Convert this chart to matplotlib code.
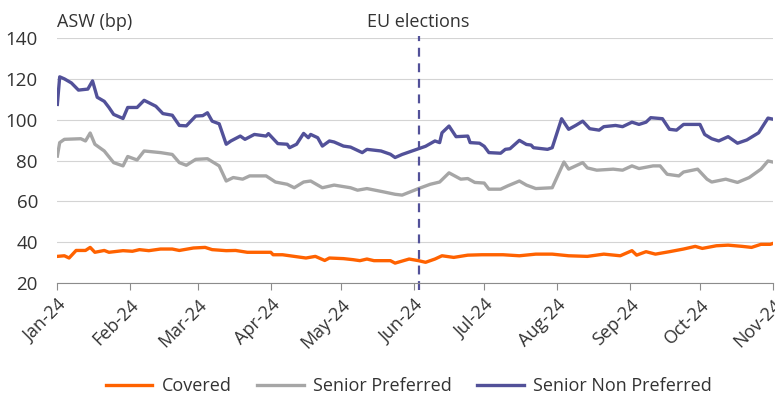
import pandas as pd
import matplotlib
matplotlib.use("Agg")
import matplotlib.pyplot as plt
import matplotlib.dates as mdates

plt.rcParams['font.family'] = ['Open Sans', 'DejaVu Sans']

# day offsets from 1 Jan 2024, values in bp
snp_days = [0, 1, 3, 6, 9, 13, 15, 17, 20, 22, 24, 28, 30, 34, 37, 42, 45, 49, 52, 55,
            59, 62, 64, 66, 69, 72, 74, 78, 80, 84, 89, 90, 94, 98, 99, 102, 105, 107, 108, 111,
            113, 116, 118, 122, 125, 130, 132, 138, 142, 144, 147, 154, 157, 161, 163, 164, 167, 170, 175, 176,
            180, 182, 184, 189, 191, 193, 197, 200, 202, 203, 209, 211, 215, 218, 221, 224, 227, 231, 233, 238,
            241, 245, 248, 251, 253, 258, 261, 264, 267, 274, 276, 279, 282, 286, 290, 294, 299, 303, 305]
snp_vals = [107.5, 121, 120, 118, 114.5, 115, 119, 111, 109, 106, 102.6, 100.6, 106, 106, 109.5, 106.6, 103, 102.2, 97.2, 97,
            101.8, 102, 103.4, 99.3, 98, 88, 89.6, 92, 90.4, 92.8, 92, 93.2, 88.3, 88, 86.3, 88, 93.3, 91.2, 92.8, 91.2,
            87.1, 89.6, 89.1, 87.1, 86.6, 83.9, 85.5, 84.7, 83.1, 81.5, 83, 85.8, 87, 89.6, 88.8, 93.6, 96.9, 91.7, 92, 88.8,
            88.5, 87, 83.9, 83.6, 85.5, 85.8, 89.9, 87.9, 87.6, 86.3, 85.5, 86.3, 100.5, 95.3, 97.2, 99.3, 95.6, 94.9, 96.6, 97.2,
            96.6, 98.8, 97.7, 98.8, 101, 100.5, 95.3, 94.9, 97.7, 97.7, 92.8, 90.7, 89.6, 91.7, 88.5, 90.1, 93.6, 100.8, 100.3]

sp_days = [0, 1, 3, 10, 12, 14, 16, 20, 24, 28, 30, 34, 37, 44, 49, 52, 55, 59, 64, 69,
           72, 75, 79, 82, 89, 93, 98, 101, 105, 108, 113, 118, 125, 128, 132, 139, 144, 147, 154, 159,
           163, 167, 172, 175, 178, 182, 184, 189, 192, 197, 200, 204, 211, 216, 218, 221, 224, 226, 230, 237,
           241, 245, 248, 254, 257, 260, 265, 267, 273, 277, 279, 285, 290, 295, 300, 303, 305]
sp_vals = [82.2, 88.8, 90.4, 90.7, 89.6, 93.5, 88, 84.7, 79, 77.4, 82, 80.3, 84.7, 83.9, 83, 79, 77.7, 80.6, 80.9, 77.4,
           70, 71.7, 70.9, 72.5, 72.5, 69.5, 68.4, 66.7, 69.5, 70, 66.7, 68, 66.7, 65.5, 66.3, 64.7, 63.5, 63.1, 66.3, 68.4,
           69.5, 74, 70.9, 71.2, 69.3, 69, 66, 66, 67.6, 70, 68, 66.3, 66.7, 79.3, 75.8, 77.4, 79, 76.4, 75.3, 75.8,
           75.3, 77.4, 76.1, 77.4, 77.4, 73.3, 72.5, 74.4, 75.8, 70.9, 69.5, 70.9, 69.3, 71.7, 75.8, 79.8, 79.3]

cov_days = [0, 3, 5, 8, 12, 14, 16, 20, 22, 28, 32, 35, 39, 44, 49, 52, 58, 63, 66, 72,
            76, 81, 86, 91, 92, 96, 101, 106, 110, 114, 116, 122, 126, 129, 132, 135, 142, 144, 150, 154,
            157, 161, 164, 169, 175, 181, 190, 197, 204, 211, 218, 226, 233, 240, 245, 247, 251, 255, 261, 267,
            272, 275, 281, 286, 292, 296, 300, 304, 305]
cov_vals = [33.1, 33.4, 32.3, 36, 36, 37.5, 35.1, 36, 35.1, 35.9, 35.6, 36.4, 35.9, 36.7, 36.7, 36, 37.2, 37.5, 36.4, 35.9,
            36, 35.1, 35.1, 35.1, 33.9, 33.9, 33.1, 32.3, 33.1, 31.1, 32.3, 32, 31.5, 31, 31.8, 31, 31, 29.8, 31.8, 31,
            30.2, 31.8, 33.4, 32.6, 33.7, 33.9, 33.9, 33.4, 34.2, 34.2, 33.4, 33.1, 34.2, 33.4, 35.9, 33.7, 35.4, 34.2, 35.4, 36.7,
            38, 37, 38.3, 38.6, 38, 37.5, 39, 39, 39.4]

start = pd.Timestamp("2024-01-01")
election_day = pd.Timestamp("2024-06-03")
month_ticks = pd.date_range("2024-01-01", "2024-11-01", freq="MS")


def to_dates(days):
    return start + pd.to_timedelta(days, unit="D")


fig = plt.figure(figsize=(7.75, 3.96), dpi=100)
ax = fig.add_axes([0.074, 0.285, 0.923, 0.619])

ax.plot(to_dates(cov_days), cov_vals, color="#FF6200", lw=2.4, label="Covered")
ax.plot(to_dates(sp_days), sp_vals, color="#A6A6A6", lw=2.4, label="Senior Preferred")
ax.plot(to_dates(snp_days), snp_vals, color="#525199", lw=2.4, label="Senior Non Preferred")

ax.axvline(election_day, ymin=-0.03, ymax=1.01, color="#525199", lw=1.6,
           ls=(0, (4, 3)), clip_on=False)
ax.text(election_day, 148, "EU elections", ha="center", va="center", fontsize=13, color="#333333")
ax.text(0.0, 148, "ASW (bp)", transform=ax.get_yaxis_transform(), ha="left", va="center",
        fontsize=13, color="#333333")

ax.set_ylim(20, 140)
ax.set_yticks([20, 40, 60, 80, 100, 120, 140])
ax.set_xlim(month_ticks[0], month_ticks[-1])
ax.set_xticks(month_ticks)
ax.xaxis.set_major_formatter(mdates.DateFormatter("%b-%y"))
plt.setp(ax.get_xticklabels(), rotation=45, ha="right", rotation_mode="anchor")

ax.grid(axis="y", color="#D4D4D4", lw=0.8)
ax.set_axisbelow(True)
for s in ["top", "right", "left"]:
    ax.spines[s].set_visible(False)
ax.spines["bottom"].set_color("#8C8C8C")
ax.tick_params(axis="y", length=0, labelsize=13.5, labelcolor="#333333", pad=14)
ax.tick_params(axis="x", length=5, color="#8C8C8C", labelsize=13, labelcolor="#333333", pad=4)

fig.legend(loc="center", bbox_to_anchor=(0.527, 0.025), ncol=3, frameon=False, fontsize=13,
           handlelength=2.6, handletextpad=0.5, columnspacing=1.4, labelcolor="#333333")

fig.savefig("out.png", dpi=100)
